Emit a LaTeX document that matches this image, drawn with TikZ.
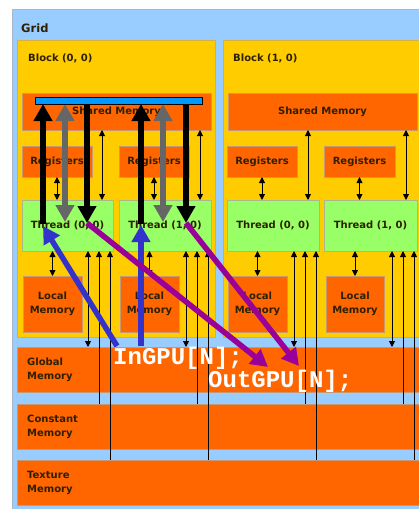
\documentclass[tikz,border=0pt]{standalone}
\usepackage{fontspec}
\setmainfont{DejaVu Sans}
\newfontfamily\codefont{Liberation Mono}
\usetikzlibrary{arrows.meta}

\definecolor{gridblue}{HTML}{99CCFF}
\definecolor{gridedge}{HTML}{A8B8C8}
\definecolor{blockyel}{HTML}{FFCC00}
\definecolor{blockedge}{HTML}{D8B040}
\definecolor{memorange}{HTML}{FF6600}
\definecolor{memedge}{HTML}{C89870}
\definecolor{threadgreen}{HTML}{99FF66}
\definecolor{thredge}{HTML}{A8B890}
\definecolor{labeltext}{HTML}{2E2000}
\definecolor{barblue}{HTML}{0099FF}
\definecolor{inblue}{HTML}{3333CC}
\definecolor{outpurple}{HTML}{990099}
\definecolor{movegray}{HTML}{666666}

\newcommand\lblfont{\bfseries\fontsize{10}{14}\selectfont}
\newcommand\codetext{\codefont\bfseries\fontsize{24}{24}\selectfont}

\tikzset{
  area/.style={anchor=north west, inner sep=0pt, outer sep=0pt, line width=0.6pt},
  gridbox/.style={area, fill=gridblue, draw=gridedge},
  blockbox/.style={area, fill=blockyel, draw=blockedge},
  membox/.style={area, fill=memorange, draw=memedge, font=\lblfont,
    text=labeltext, align=center},
  thrbox/.style={area, fill=threadgreen, draw=thredge, font=\lblfont,
    text=labeltext},
  lbl/.style={inner sep=0pt, font=\lblfont, text=labeltext},
  sidelbl/.style={lbl, anchor=west, align=left},
  link/.style={line width=0.9pt,
    {Triangle[length=6pt,width=6pt]}-{Triangle[length=6pt,width=6pt]}},
  uplink/.style={line width=0.9pt, -{Triangle[length=6pt,width=6pt]}},
  fat/.style={line width=5.5pt},
  fatend/.style={fat, -{Triangle[length=17pt,width=18pt]}},
  fatboth/.style={fat,
    {Triangle[length=17pt,width=18pt]}-{Triangle[length=17pt,width=18pt]}},
  codelbl/.style={inner sep=0pt, anchor=base west, text=white, font=\codetext},
}

\begin{document}
\begin{tikzpicture}[x=1pt,y=-1pt]
\useasboundingbox (0,0) rectangle (419,509);
\clip (0,0) rectangle (419,509);
\fill[white] (0,0) rectangle (419,509);

% grid and blocks
\node[gridbox, minimum width=440pt, minimum height=510pt] (grid) at (12,9) {};
\node[lbl, anchor=base west, font=\bfseries\fontsize{11.5}{14}\selectfont] (gridlbl) at (21,32) {Grid};

\node[blockbox, minimum width=198pt, minimum height=297pt] (blk0) at (17,40) {};
\node[blockbox, minimum width=220pt, minimum height=297pt] (blk1) at (223,40) {};
\node[lbl, anchor=base west] (blk0lbl) at (28,61) {Block (0, 0)};
\node[lbl, anchor=base west] (blk1lbl) at (233,61) {Block (1, 0)};

% block (0, 0)
\node[membox, minimum width=189pt, minimum height=37pt] (sm0) at (22,93) {Shared Memory};
\node[membox, minimum width=70pt, minimum height=31pt] (reg00) at (22,146) {Registers};
\node[membox, minimum width=70pt, minimum height=31pt] (reg01) at (119,146) {Registers};
\node[thrbox, minimum width=91pt, minimum height=51pt] (thr00) at (22,200) {Thread (0, 0)};
\node[thrbox, minimum width=92pt, minimum height=51pt] (thr01) at (119,200) {Thread (1, 0)};
\node[membox, minimum width=59pt, minimum height=56pt] (loc00) at (23,276) {Local\\Memory};
\node[membox, minimum width=59pt, minimum height=56pt] (loc01) at (120,276) {Local\\Memory};

% block (1, 0)
\node[membox, minimum width=189pt, minimum height=37pt] (sm1) at (228,93) {Shared Memory};
\node[membox, minimum width=70pt, minimum height=31pt] (reg10) at (227,146) {Registers};
\node[membox, minimum width=71pt, minimum height=31pt] (reg11) at (324,146) {Registers};
\node[thrbox, minimum width=92pt, minimum height=51pt] (thr10) at (227,200) {Thread (0, 0)};
\node[thrbox, minimum width=93pt, minimum height=51pt] (thr11) at (324,200) {Thread (1, 0)};
\node[membox, minimum width=59pt, minimum height=56pt] (loc10) at (228,276) {Local\\Memory};
\node[membox, minimum width=58pt, minimum height=56pt] (loc11) at (326,276) {Local\\Memory};

% device-wide memories
\node[membox, minimum width=430pt, minimum height=45pt] (glob) at (17,347) {};
\node[membox, minimum width=430pt, minimum height=45pt] (const) at (17,404) {};
\node[membox, minimum width=430pt, minimum height=45pt] (tex) at (17,460) {};
\node[sidelbl] (globlbl) at (27,369.5) {Global\\Memory};
\node[sidelbl] (constlbl) at (27,426.5) {Constant\\Memory};
\node[sidelbl] (texlbl) at (27,482.5) {Texture\\Memory};

% per-thread links: shared memory, registers, local memory
\foreach \b/\t in {0/0,0/1,1/0,1/1}{
  \draw[link] ([xshift=-11pt]thr\b\t.north east |- sm\b.south) -- ([xshift=-11pt]thr\b\t.north east);
  \draw[link] (reg\b\t.south) -- (reg\b\t.south |- thr\b\t.north);
  \draw[link] (loc\b\t.north) -- (loc\b\t.north |- thr\b\t.south);
  % global (read/write), constant and texture (read only)
  \draw[link] ([xshift=-25pt]thr\b\t.south east) -- ([xshift=-25pt]thr\b\t.south east |- glob.north);
  \draw[uplink] ([xshift=-14pt]thr\b\t.south east |- const.north) -- ([xshift=-14pt]thr\b\t.south east);
  \draw[uplink] ([xshift=-3pt]thr\b\t.south east |- tex.north) -- ([xshift=-3pt]thr\b\t.south east);
}

% data movement through the shared memory buffer
\node[inner sep=0pt, outer sep=0pt, anchor=north west, minimum width=167pt,
      minimum height=7pt] (bar) at (35,97) {};
\coordinate (up0) at (43,224);
\coordinate (up1) at (141,224);
\coordinate (sw0) at (65,222);
\coordinate (sw1) at (163,222);
\coordinate (dn0) at (87,223);
\coordinate (dn1) at (186,223);
\draw[fatend] (up0) -- (up0 |- bar.south);
\draw[fatend] (up1) -- (up1 |- bar.south);
\draw[fatboth, draw=movegray, fill=movegray] (sw0 |- bar.south) -- (sw0);
\draw[fatboth, draw=movegray, fill=movegray] (sw1 |- bar.south) -- (sw1);
\draw[fatend] (dn0 |- bar.south) -- (dn0);
\draw[fatend] (dn1 |- bar.south) -- (dn1);
\draw[fill=barblue, draw=black, line width=0.8pt] (bar.north west) rectangle (bar.south east);

% input array feeding the threads
\coordinate (inA) at (117,346);
\coordinate (inB) at (141,346);
\coordinate (tipA) at (43,226);
\coordinate (tipB) at (141,225);
\draw[fatend, draw=inblue, fill=inblue] (inA) -- (tipA);
\draw[fatend, draw=inblue, fill=inblue] (inB) -- (tipB);

% threads writing the output array
\coordinate (outA) at (268,367);
\coordinate (outB) at (299,366);
\draw[fatend, draw=outpurple, fill=outpurple] (dn0) -- (outA);
\draw[fatend, draw=outpurple, fill=outpurple] (dn1) -- (outB);

\node[codelbl] (ingpu) at (113,364) {InGPU[N];};
\node[codelbl] (outgpu) at (208,387) {OutGPU[N];};
\end{tikzpicture}
\end{document}
